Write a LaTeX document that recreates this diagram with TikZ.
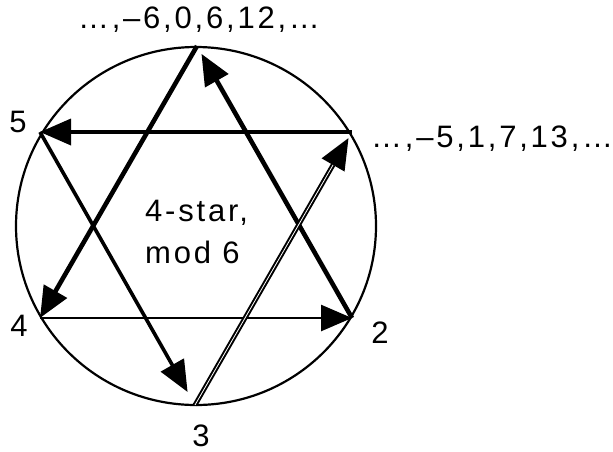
\documentclass[tikz,border=0pt]{standalone}
\usepackage{fontspec}
\setmainfont{Liberation Sans}
\usetikzlibrary{arrows.meta}

\begin{document}
\begin{tikzpicture}[x=1pt, y=-1pt,
  lbl/.style={font=\fontsize{31}{42}\selectfont\addfontfeatures{LetterSpace=9}, inner sep=0pt},
  arr/.style={-{Triangle[length=31pt, width=26pt]}},
  heavy/.style={arr, line width=4.6pt},
  medium/.style={arr, line width=3.6pt},
  light/.style={arr, line width=2.6pt},
]
  \useasboundingbox (0,0) rectangle (613,451);

  % ring
  \draw[line width=2.2pt] (196,226) ellipse [x radius=180, y radius=179];

  % star points
  \coordinate (t0) at (197,46);
  \coordinate (t1) at (352,132);
  \coordinate (t2) at (352,318);
  \coordinate (t3) at (195,405);
  \coordinate (t4) at (40,318);
  \coordinate (t5) at (40,132);

  % triangle 0-4-2
  \draw[heavy] (t0) -- (t4);
  \draw[light] (t4) -- (t2);
  \draw[heavy, shorten >=9pt] (t2) -- (t0);

  % triangle 1-5-3
  \draw[medium] (t1) -- (t5);
  \draw[medium, shorten >=15pt] (t5) -- (t3);
  \draw[arr, line width=2pt, shorten >=7pt] (t3) -- (t1);
  \draw[line width=2pt, double, double distance=0.8pt, shorten >=38pt] (t3) -- (t1);

  \node[lbl, anchor=base] (top) at (199,28) {…,–6,0,6,12,…};
  \node[lbl, anchor=base west] (rgt) at (371,147) {…,–5,1,7,13,…};
  \node[lbl, anchor=base] (five) at (18,132) {5};
  \node[lbl, anchor=base] (four) at (19,336) {4};
  \node[lbl, anchor=base] (two) at (380,343) {2};
  \node[lbl, anchor=base] (three) at (201,446) {3};
  \node[lbl, anchor=north west, align=left] (mid) at (145,200) {4-star,\\mod 6};
\end{tikzpicture}
\end{document}
